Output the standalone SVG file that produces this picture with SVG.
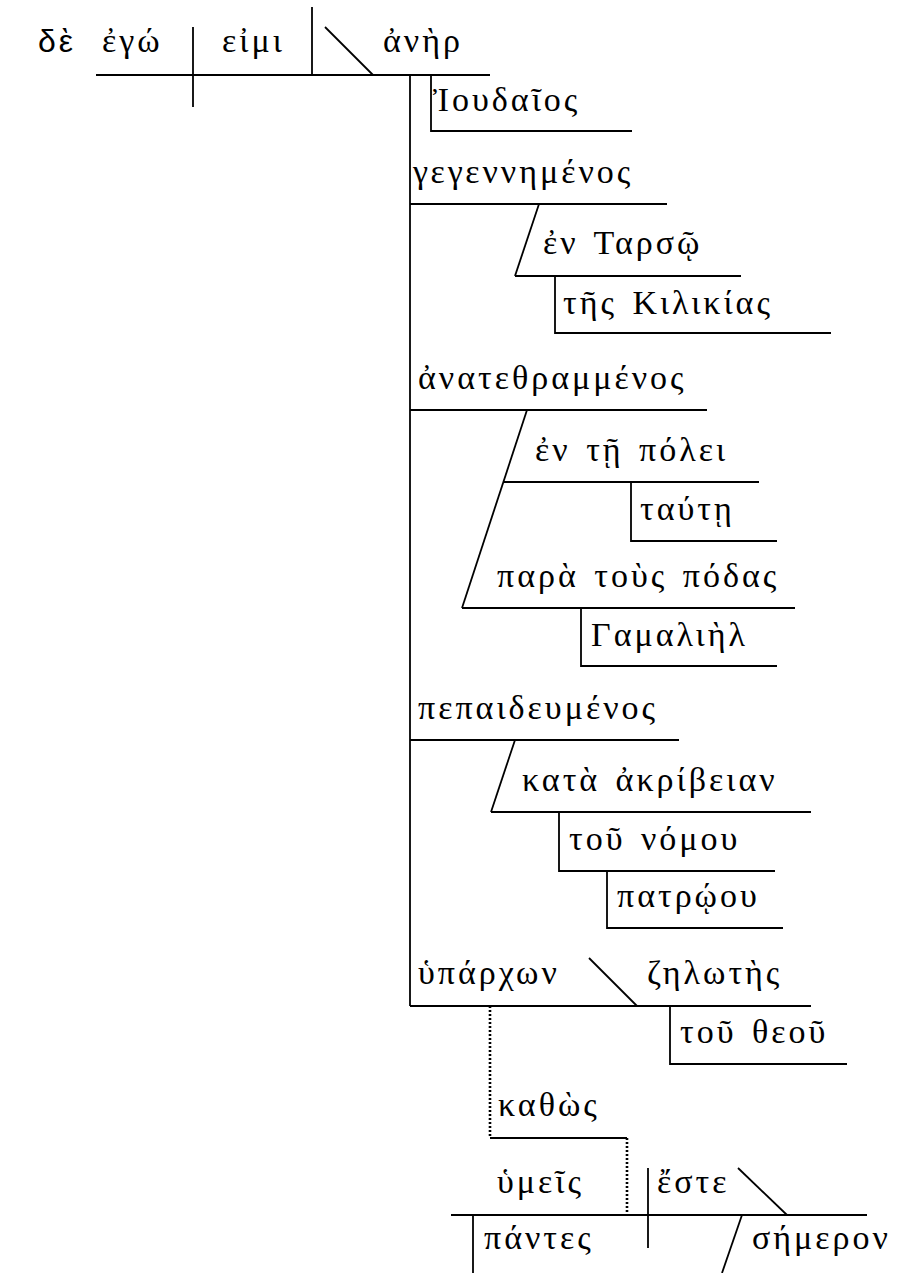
<svg xmlns="http://www.w3.org/2000/svg" width="921" height="1273" viewBox="0 0 921 1273">
<style>
  .t { font-family: "Liberation Serif", "DejaVu Serif", serif; font-size: 34px; letter-spacing: 3px; word-spacing: 4px; fill: #000; }
  .s { font-family: "Liberation Sans", "DejaVu Sans", sans-serif; font-size: 32px; letter-spacing: 3px; fill: #000; }
  line, polyline { stroke: #000; stroke-width: 1.8; fill: none; }
  .dot { stroke-dasharray: 2 2; stroke-width: 2.6; }
</style>
<rect width="921" height="1273" fill="#fff"/>
<g id="connectors">
  <!-- main clause -->
  <line x1="96" y1="75" x2="490" y2="75"/>
  <line x1="193" y1="27" x2="193" y2="107"/>
  <line x1="312" y1="7" x2="312" y2="75"/>
  <line x1="325" y1="27" x2="373" y2="75"/>
  <line x1="410" y1="75" x2="410" y2="1006"/>
  <!-- Ioudaios -->
  <polyline points="431,75 431,131 632,131"/>
  <!-- gegennemenos -->
  <line x1="410" y1="204" x2="667" y2="204"/>
  <line x1="539" y1="204" x2="515" y2="276"/>
  <line x1="515" y1="276" x2="741" y2="276"/>
  <polyline points="555,276 555,333 831,333"/>
  <!-- anatethrammenos -->
  <line x1="410" y1="410" x2="707" y2="410"/>
  <line x1="527" y1="410" x2="462" y2="608"/>
  <line x1="504" y1="482" x2="759" y2="482"/>
  <polyline points="631,482 631,541 777,541"/>
  <line x1="462" y1="608" x2="795" y2="608"/>
  <polyline points="581,608 581,666 777,666"/>
  <!-- pepaideumenos -->
  <line x1="410" y1="740" x2="679" y2="740"/>
  <line x1="515" y1="740" x2="491" y2="812"/>
  <line x1="491" y1="812" x2="811" y2="812"/>
  <polyline points="559,812 559,871 775,871"/>
  <polyline points="607,871 607,928 783,928"/>
  <!-- hyparchon -->
  <line x1="410" y1="1006" x2="811" y2="1006"/>
  <line x1="589" y1="958" x2="637" y2="1006"/>
  <polyline points="670,1006 670,1064 847,1064"/>
  <!-- kathos -->
  <line class="dot" x1="490" y1="1006" x2="490" y2="1138"/>
  <line x1="490" y1="1138" x2="627" y2="1138"/>
  <line class="dot" x1="627" y1="1138" x2="627" y2="1215"/>
  <!-- subordinate clause -->
  <line x1="451" y1="1215" x2="867" y2="1215"/>
  <line x1="473" y1="1215" x2="473" y2="1273"/>
  <line x1="648" y1="1168" x2="648" y2="1248"/>
  <line x1="738" y1="1168" x2="787" y2="1215"/>
  <line x1="742" y1="1215" x2="722" y2="1273"/>
</g>
<g id="n-de"><text class="s" x="38" y="52">δὲ</text></g>
<g id="n-ego"><text class="t" x="102" y="52">ἐγώ</text></g>
<g id="n-eimi"><text class="t" x="222" y="52">εἰμι</text></g>
<g id="n-aner"><text class="t" x="383" y="52">ἀνὴρ</text></g>
<g id="n-ioudaios"><text class="t" x="433" y="111">Ἰουδαῖος</text></g>
<g id="n-gegennemenos"><text class="t" x="413" y="183">γεγεννημένος</text></g>
<g id="n-en-tarso"><text class="t" x="543" y="254">ἐν Ταρσῷ</text></g>
<g id="n-tes-kilikias"><text class="t" x="563" y="314">τῆς Κιλικίας</text></g>
<g id="n-anatethrammenos"><text class="t" x="418" y="389">ἀνατεθραμμένος</text></g>
<g id="n-en-te-polei"><text class="t" x="535" y="461">ἐν τῇ πόλει</text></g>
<g id="n-taute"><text class="t" x="640" y="520">ταύτῃ</text></g>
<g id="n-para-tous-podas"><text class="t" x="497" y="587">παρὰ τοὺς πόδας</text></g>
<g id="n-gamaliel"><text class="t" x="591" y="646">Γαμαλιὴλ</text></g>
<g id="n-pepaideumenos"><text class="t" x="418" y="719">πεπαιδευμένος</text></g>
<g id="n-kata-akribeian"><text class="t" x="522" y="791">κατὰ ἀκρίβειαν</text></g>
<g id="n-tou-nomou"><text class="t" x="569" y="850">τοῦ νόμου</text></g>
<g id="n-patroou"><text class="t" x="617" y="907">πατρῴου</text></g>
<g id="n-hyparchon"><text class="t" x="418" y="984">ὑπάρχων</text></g>
<g id="n-zelotes"><text class="t" x="647" y="984">ζηλωτὴς</text></g>
<g id="n-tou-theou"><text class="t" x="680" y="1043">τοῦ θεοῦ</text></g>
<g id="n-kathos"><text class="t" x="498" y="1116">καθὼς</text></g>
<g id="n-hymeis"><text class="t" x="497" y="1193">ὑμεῖς</text></g>
<g id="n-este"><text class="t" x="657" y="1193">ἔστε</text></g>
<g id="n-pantes"><text class="t" x="484" y="1249">πάντες</text></g>
<g id="n-semeron"><text class="t" x="752" y="1249">σήμερον</text></g>
</svg>
